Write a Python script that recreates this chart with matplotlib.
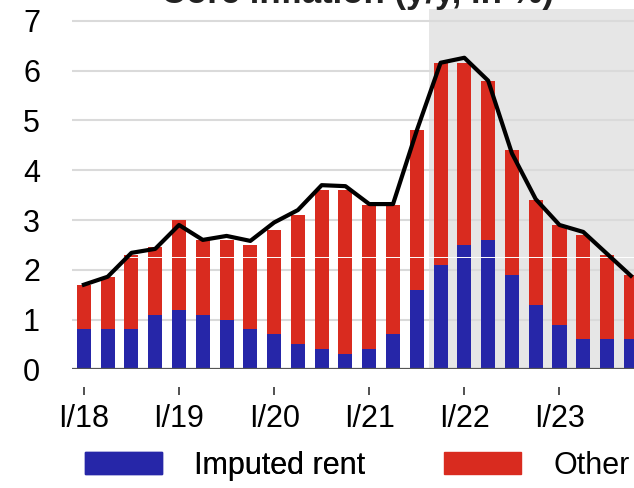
import matplotlib
matplotlib.use("Agg")
import matplotlib.pyplot as plt
from matplotlib.patches import Patch
import numpy as np

plt.rcParams['font.family'] = ['Liberation Sans', 'DejaVu Sans']

# ---- data ----
quarters = ["I/18", "II/18", "III/18", "IV/18",
            "I/19", "II/19", "III/19", "IV/19",
            "I/20", "II/20", "III/20", "IV/20",
            "I/21", "II/21", "III/21", "IV/21",
            "I/22", "II/22", "III/22", "IV/22",
            "I/23", "II/23", "III/23", "IV/23"]
imputed_rent = [0.8, 0.8, 0.8, 1.1, 1.2, 1.1, 1.0, 0.8,
                0.7, 0.5, 0.4, 0.3, 0.4, 0.7, 1.6, 2.1,
                2.5, 2.6, 1.9, 1.3, 0.9, 0.6, 0.6, 0.6]
other = [0.9, 1.05, 1.5, 1.35, 1.8, 1.5, 1.6, 1.7,
         2.1, 2.6, 3.2, 3.3, 2.9, 2.6, 3.2, 4.05,
         3.65, 3.2, 2.5, 2.1, 2.0, 2.1, 1.7, 1.3]
core_inflation = [1.7, 1.86, 2.34, 2.42, 2.9, 2.6, 2.68, 2.58,
                  2.95, 3.2, 3.7, 3.68, 3.32, 3.32, 4.8, 6.16,
                  6.26, 5.8, 4.34, 3.42, 2.9, 2.76, 2.32, 1.88]
year_ticks = ["I/18", "I/19", "I/20", "I/21", "I/22", "I/23"]
forecast_start = "IV/21"
title = "Core inflation (y/y, in %)"

BLUE = "#2626a8"
RED = "#d92b1f"
FS = 22

fig = plt.figure(figsize=(6.34, 4.88), dpi=100)
ax = fig.add_axes([72/634, (488-369.3)/488, 1 - 72/634, 360.3/488])

x = np.arange(len(quarters))
fs = quarters.index(forecast_start)
ax.axvspan(fs - 0.5, len(quarters) + 1, color="#e6e6e6", zorder=0, lw=0)

for v in range(1, 8):
    ax.axhline(v, color="#dadada", lw=1.5, zorder=1)

ax.bar(x, imputed_rent, width=0.59, color=BLUE, zorder=2, label="Imputed rent")
ax.bar(x, other, width=0.59, bottom=imputed_rent, color=RED, zorder=2, label="Other")
ax.axhline(2.25, color="white", lw=0.7, zorder=3)
ax.plot(x, core_inflation, color="black", lw=3.0, zorder=4, solid_joinstyle="round")
ax.axhline(0, color="#555555", lw=1.6, zorder=5)

ax.set_xlim(-0.5, -0.5 + 562/23.78)
ax.set_ylim(0, 7.24)
ax.set_yticks(range(0, 8))
ax.set_xticks([quarters.index(t) for t in year_ticks])
ax.set_xticklabels(year_ticks)

for s in ax.spines.values():
    s.set_visible(False)
ax.spines['bottom'].set_position(('outward', 13))
ax.tick_params(axis='x', length=6, width=1.2, color="#333333", pad=6, labelsize=FS)
ax.tick_params(axis='y', length=0, pad=23, labelsize=FS)

fig.text(357/634, 1 - 3.5/488, title, ha="center", va="baseline",
         fontsize=25, fontweight="bold", color="#222222")

legend_kw = dict(frameon=False, fontsize=FS, handlelength=2.52, handleheight=0.72,
                 handletextpad=1.05, borderpad=0, borderaxespad=0, loc="center left")
l1 = fig.legend(handles=[Patch(color=BLUE, label="Imputed rent")],
                bbox_to_anchor=(85/634, 1 - 466/488), **legend_kw)
fig.add_artist(l1)
fig.legend(handles=[Patch(color=RED, label="Other")],
           bbox_to_anchor=(444/634, 1 - 466/488), **legend_kw)

fig.savefig("out.png", dpi=100)
